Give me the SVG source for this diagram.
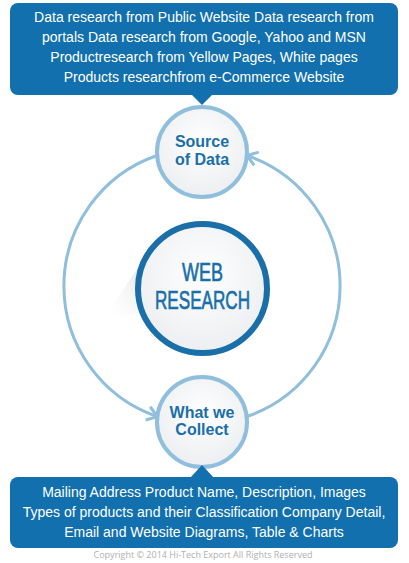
<svg xmlns="http://www.w3.org/2000/svg" width="409" height="563" viewBox="0 0 409 563">
<defs>
<style>
.box{fill:#1170ad}
.btxt{font-family:"Liberation Sans",Arial,sans-serif;font-size:14px;fill:#ffffff;text-anchor:middle}
.ring{fill:url(#cg);stroke:#8fbfdc;stroke-width:4}
.ntxt{font-family:"Liberation Sans",Arial,sans-serif;font-size:16px;font-weight:bold;fill:#1a6fa8;text-anchor:middle}
.conn{fill:none;stroke:#8fbfdc;stroke-width:3}
.web{font-family:"Liberation Sans Narrow","Liberation Sans",Arial,sans-serif;font-size:26px;fill:#1a6fa8;stroke:#1a6fa8;stroke-width:0.7;text-anchor:middle}
.copy{font-family:"Open Sans","Liberation Sans",sans-serif;font-size:9px;fill:#b0b0b0;text-anchor:middle}
</style>
<radialGradient id="cg" cx="0.5" cy="0.4" r="0.6">
<stop offset="0" stop-color="#ffffff"/>
<stop offset="1" stop-color="#eceef1"/>
</radialGradient>
<linearGradient id="sh" x1="1" y1="0" x2="0" y2="1">
<stop offset="0" stop-color="#c8c8c8" stop-opacity="0.8"/>
<stop offset="1" stop-color="#ffffff" stop-opacity="0"/>
</linearGradient>
<marker id="arr" markerUnits="userSpaceOnUse" markerWidth="20" markerHeight="20" viewBox="-12 -10 14 20" refX="0" refY="0" orient="auto">
<path d="M-10,-7 L0,0 L-10,7" fill="none" stroke="#8fbfdc" stroke-width="3"/>
</marker>
</defs>
<rect width="409" height="563" fill="#ffffff"/>

<g id="connectors">
<path class="conn" d="M157,155.5 A138,138 0 0 0 157.4,416.6" marker-end="url(#arr)"/>
<path class="conn" d="M246.6,416.6 A138,138 0 0 0 247,155.5" marker-end="url(#arr)"/>
</g>

<g id="top-box">
<rect class="box" x="10" y="3" width="388" height="92" rx="8"/>
<polygon class="box" points="191,94 213,94 202,105"/>
<text class="btxt" x="204" y="22">Data research from Public Website Data research from</text>
<text class="btxt" x="204" y="42">portals Data research from Google, Yahoo and MSN</text>
<text class="btxt" x="204" y="62">Productresearch from Yellow Pages, White pages</text>
<text class="btxt" x="204" y="82">Products researchfrom e-Commerce Website</text>
</g>

<g id="source">
<circle class="ring" cx="202" cy="152" r="45"/>
<text class="ntxt" x="202" y="147">Source</text>
<text class="ntxt" x="202" y="165">of Data</text>
</g>

<g id="web-research">
<polygon points="150,250 104,318 148,312" fill="url(#sh)"/>
<circle cx="202.5" cy="288.5" r="64.5" fill="url(#cg)" stroke="#1a6fa8" stroke-width="6"/>
<text class="web" x="202.5" y="281" textLength="41" lengthAdjust="spacingAndGlyphs">WEB</text>
<text class="web" x="202.5" y="309" textLength="95" lengthAdjust="spacingAndGlyphs">RESEARCH</text>
</g>

<g id="collect">
<circle class="ring" cx="202" cy="422" r="45"/>
<text class="ntxt" x="202" y="418">What we</text>
<text class="ntxt" x="202" y="435">Collect</text>
</g>

<g id="bottom-box">
<rect class="box" x="10" y="477" width="388" height="71" rx="8"/>
<polygon class="box" points="190,478 214,478 202,465"/>
<text class="btxt" x="204" y="497">Mailing Address Product Name, Description, Images</text>
<text class="btxt" x="204" y="517">Types of products and their Classification Company Detail,</text>
<text class="btxt" x="204" y="537">Email and Website Diagrams, Table &amp; Charts</text>
</g>

<text class="copy" x="203" y="558">Copyright © 2014 Hi-Tech Export  All Rights Reserved</text>
</svg>
